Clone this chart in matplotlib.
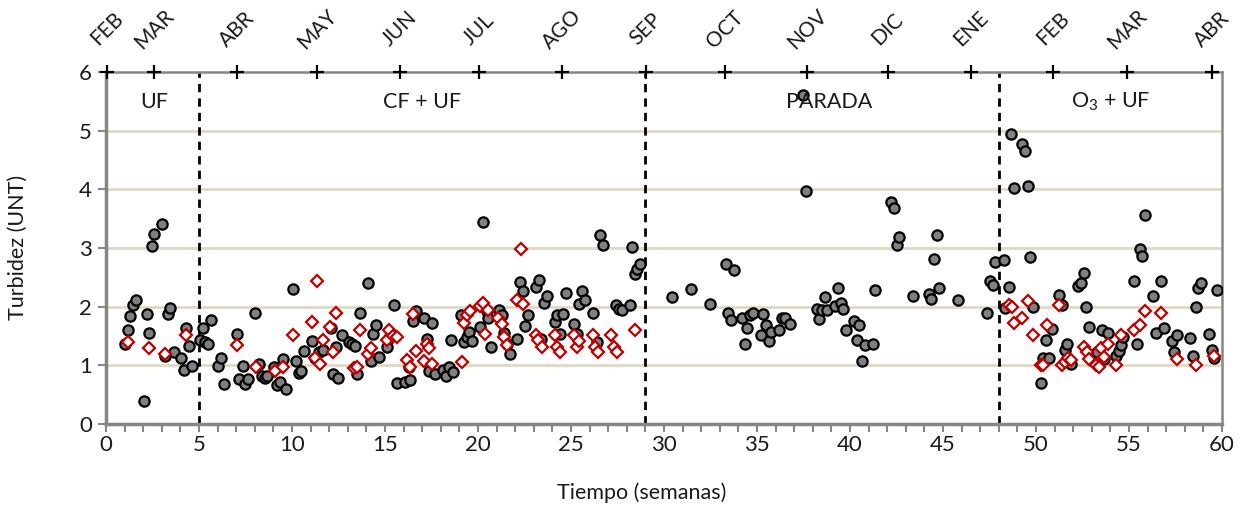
import matplotlib
matplotlib.use("Agg")
import matplotlib.pyplot as plt
import matplotlib.transforms as mtransforms

plt.rcParams['font.family'] = ['Lato', 'DejaVu Sans']
plt.rcParams['mathtext.default'] = 'regular'

# ---- data ----
gray_x = [1.02, 1.17, 1.31, 1.47, 1.61, 2.03, 2.19, 2.31, 2.46, 2.60, 3.03, 3.19, 3.31, 3.46, 3.64,
          4.05, 4.19, 4.32, 4.46, 4.62, 5.03, 5.20, 5.34, 5.50, 5.63, 6.04, 6.20, 6.33, 7.02, 7.17,
          7.35, 7.49, 7.63, 8.03, 8.23, 8.40, 8.53, 8.66, 9.02, 9.18, 9.35, 9.50, 9.66, 10.04, 10.20,
          10.39, 10.50, 10.63, 11.08, 11.24, 11.47, 11.65, 12.10, 12.22, 12.37, 12.49, 12.67, 13.08,
          13.24, 13.39, 13.51, 13.66, 14.07, 14.25, 14.37, 14.52, 14.68, 15.09, 15.23, 15.50, 15.65,
          16.05, 16.35, 16.30, 16.52, 16.67, 17.10, 17.24, 17.53, 17.35, 17.69, 18.10, 18.26, 18.42,
          18.67, 18.53, 19.07, 19.25, 19.39, 19.53, 19.69, 20.10, 20.25, 20.50, 20.55, 20.68, 21.11,
          21.27, 21.40, 21.54, 21.72, 22.12, 22.26, 22.40, 22.70, 22.55, 23.11, 23.28, 23.55, 23.70,
          23.37, 24.14, 24.26, 24.55, 24.41, 24.71, 25.16, 25.30, 25.41, 25.57, 25.75, 26.17, 26.38,
          26.56, 26.74, 27.42, 27.58, 27.76, 28.17, 28.30, 28.44, 28.56, 28.73,
          30.45, 31.45, 32.45, 33.33, 33.78, 33.46, 33.62, 34.19, 34.48, 34.34, 34.62, 34.77, 35.20,
          35.34, 35.48, 35.62, 35.77, 36.20, 36.34, 36.49, 36.77, 37.47, 37.61, 38.20, 38.35, 38.49,
          38.64, 38.78, 39.21, 39.35, 39.50, 39.64, 39.78, 40.22, 40.50, 40.36, 40.65, 40.79, 41.22,
          41.36, 42.22, 42.37, 42.51, 42.65, 43.37, 44.23, 44.37, 44.52, 44.66, 44.80, 45.82, 47.38,
          47.53, 47.67, 47.81, 48.26, 48.33, 48.53, 48.67, 48.82, 49.27, 49.39, 49.55, 49.68, 49.82,
          50.27, 50.36, 50.54, 50.72, 50.84, 51.25, 51.38, 51.56, 51.68, 51.86, 52.24, 52.40, 52.58,
          52.69, 52.83, 53.26, 53.55, 53.85, 53.66, 54.30, 54.45, 54.55, 54.69, 55.28, 55.43, 55.58,
          55.72, 55.86, 56.29, 56.44, 56.72, 56.87, 57.29, 57.44, 57.60, 58.28, 58.44, 58.58, 58.73,
          58.87, 59.30, 59.44, 59.59, 59.75]
gray_y = [1.36, 1.61, 1.84, 2.03, 2.11, 0.40, 1.87, 1.55, 3.03, 3.24, 3.41, 1.16, 1.87, 1.98, 1.22,
          1.12, 0.92, 1.63, 1.33, 0.99, 1.43, 1.64, 1.39, 1.36, 1.78, 0.99, 1.13, 0.69, 1.54, 0.76,
          0.99, 0.69, 0.76, 1.90, 1.03, 0.82, 0.78, 0.81, 0.97, 0.66, 0.72, 1.11, 0.60, 2.30, 1.07,
          0.87, 0.90, 1.24, 1.41, 1.12, 1.23, 1.26, 1.63, 0.85, 1.31, 0.78, 1.52, 1.40,
          1.36, 1.33, 0.85, 1.89, 2.41, 1.07, 1.53, 1.68, 1.14, 1.32, 1.46, 2.02, 0.70,
          0.72, 0.75, 0.98, 1.76, 1.93, 1.80, 1.45, 1.72, 0.91, 0.86, 0.92, 0.82, 0.97,
          0.89, 1.44, 1.86, 1.39, 1.49, 1.56, 1.42, 1.66, 3.45, 1.93, 1.80, 1.32, 1.95,
          1.86, 1.55, 1.36, 1.19, 1.45, 2.42, 2.27, 1.85, 1.67, 2.34, 2.45, 2.07, 2.18,
          1.45, 1.74, 1.85, 1.87, 1.53, 2.23, 1.70, 1.53, 2.05, 2.26, 2.11, 1.89, 1.40,
          3.22, 3.05, 2.02, 1.96, 1.94, 2.02, 3.02, 2.55, 2.64, 2.72,
          2.17, 2.30, 2.05, 2.72, 2.62, 1.90, 1.78, 1.80, 1.63, 1.36, 1.85, 1.90, 1.52,
          1.87, 1.68, 1.41, 1.56, 1.61, 1.80, 1.80, 1.70, 5.61, 3.98, 1.96, 1.79, 1.94,
          2.16, 1.94, 2.01, 2.31, 2.07, 1.96, 1.61, 1.76, 1.68, 1.43, 1.08, 1.35, 1.36,
          2.28, 3.78, 3.69, 3.05, 3.18, 2.18, 2.21, 2.13, 2.81, 3.22, 2.32, 2.11, 1.90,
          2.44, 2.37, 2.76, 2.80, 1.97, 2.34, 4.95, 4.02, 4.78, 4.66, 4.06, 2.85, 1.99,
          0.70, 1.12, 1.43, 1.12, 1.62, 2.20, 2.03, 1.26, 1.36, 1.03, 2.36, 2.40, 2.58,
          1.99, 1.66, 1.22, 1.60, 1.55, 1.10, 1.16, 1.25, 1.35, 1.48, 2.44, 1.36, 2.99,
          2.86, 3.56, 2.18, 1.55, 2.44, 1.63, 1.42, 1.23, 1.52, 1.46, 1.16, 1.99, 2.32,
          2.40, 1.53, 1.26, 1.13, 2.28]

red_x = [1.17, 2.31, 3.19, 4.32, 7.02, 8.05, 9.08, 9.50, 10.06, 11.07, 11.35, 11.24, 11.50, 11.65,
         12.04, 12.22, 12.37, 13.33, 13.47, 13.66, 14.07, 14.25, 15.09, 15.23, 15.41, 15.62, 16.16,
         16.52, 16.34, 16.67, 17.10, 17.24, 17.38, 17.54, 19.12, 19.26, 19.39, 19.57, 20.10, 20.29,
         20.39, 20.55, 21.10, 21.31, 21.40, 21.54, 22.11, 22.29, 22.44, 23.11, 23.24, 23.42, 24.14,
         24.27, 24.41, 25.16, 25.30, 25.43, 26.17, 26.29, 26.43, 27.15, 27.31, 27.45, 28.44,
         48.55, 48.69, 48.83, 49.27, 49.55, 49.82, 50.27, 50.40, 50.57, 51.25, 51.41, 51.56, 51.74,
         51.86, 52.58, 52.72, 52.85, 53.20, 53.37, 53.50, 53.65, 53.89, 54.29, 54.56, 55.28, 55.59,
         55.86, 56.72, 57.59, 58.58, 59.59]
red_y = [1.40, 1.30, 1.19, 1.51, 1.34, 0.98, 0.91, 0.97, 1.51, 1.74, 2.44, 1.13, 1.02, 1.43,
         1.65, 1.22, 1.90, 0.96, 0.98, 1.60, 1.20, 1.29, 1.43, 1.60, 1.50, 1.49, 1.09,
         1.87, 0.98, 1.24, 1.08, 1.36, 1.29, 1.02, 1.05, 1.73, 1.86, 1.93, 2.01, 2.07,
         1.53, 1.94, 1.80, 1.70, 1.49, 1.35, 2.12, 2.98, 2.05, 1.52, 1.43, 1.31, 1.52,
         1.32, 1.22, 1.52, 1.31, 1.42, 1.52, 1.32, 1.22, 1.52, 1.32, 1.22, 1.60,
         2.02, 2.00, 1.72, 1.80, 2.10, 1.52, 1.00, 1.00, 1.69, 2.03, 1.00, 1.06, 1.12,
         1.09, 1.31, 1.23, 1.11, 1.01, 0.98, 1.30, 1.15, 1.36, 1.00, 1.51, 1.60, 1.68,
         1.93, 1.89, 1.11, 1.00, 1.16]

month_labels = ['FEB', 'MAR', 'ABR', 'MAY', 'JUN', 'JUL', 'AGO', 'SEP', 'OCT', 'NOV', 'DIC',
                'ENE', 'FEB', 'MAR', 'ABR']
month_pos = [0.05, 2.58, 7.04, 11.34, 15.8, 20.05, 24.5, 29.03, 33.3, 37.7, 42.04, 46.5,
             50.9, 54.9, 59.46]

phase_bounds = [5, 29, 48]
phase_labels = ['UF', 'CF + UF', 'PARADA', 'O$_3$ + UF']
phase_x = [2.6, 17.0, 38.9, 54.0]

# ---- figure ----
W, H = 1248, 509
fig = plt.figure(figsize=(W / 100, H / 100), dpi=100)
ax = fig.add_axes([106 / W, 85 / H, 1116 / W, 352 / H])

ax.set_xlim(0, 60)
ax.set_ylim(0, 6)

txt_col = '#1a1a1a'
grid_col = '#DDD9C3'
for yv in range(1, 6):
    ax.axhline(yv, color=grid_col, lw=2, zorder=1)

for xb in phase_bounds:
    ax.plot([xb, xb], [0, 6], color='black', lw=2, ls=(0, (3, 2.2)), zorder=2)

ax.plot(gray_x, gray_y, ls='none', marker='o', ms=7.4, mfc='#808080', mec='black',
        mew=1.6, zorder=3)
ax.plot(red_x, red_y, ls='none', marker='D', ms=6.2, mfc='white', mec='#C00000',
        mew=1.6, zorder=4)

for lab, xp in zip(phase_labels, phase_x):
    ax.text(xp, 5.49, lab, ha='center', va='center', fontsize=15.5, color=txt_col)

# top axis: month markers
ax.plot(month_pos, [6] * len(month_pos), ls='none', marker='+', ms=10, mew=1.6,
        color='black', clip_on=False, zorder=6)
trans = mtransforms.blended_transform_factory(ax.transData, ax.transAxes)
for lab, xp in zip(month_labels, month_pos):
    ax.text(xp, 1.122, lab, transform=trans, rotation=45, ha='center', va='center',
            fontsize=15, color=txt_col)

spine_col = '#868686'
for s in ['left', 'bottom']:
    ax.spines[s].set_color(spine_col)
    ax.spines[s].set_linewidth(2.5)
ax.spines['right'].set_color(spine_col)
ax.spines['right'].set_linewidth(1.8)
ax.spines['top'].set_color(spine_col)
ax.spines['top'].set_linewidth(1.8)

ax.set_xticks(range(0, 61, 5))
ax.set_xticks(range(0, 61, 1), minor=True)
ax.set_yticks(range(0, 7))
ax.tick_params(axis='both', which='both', direction='out', color=spine_col, width=1.5,
               length=6, labelsize=16, labelcolor=txt_col)
ax.tick_params(axis='x', which='major', pad=2)
ax.tick_params(axis='y', pad=4)

fig.text(642 / W, 1 - 493 / H, 'Tiempo (semanas)', ha='center', va='center',
         fontsize=15.5, color=txt_col)
fig.text(18 / W, 1 - 247 / H, 'Turbidez (UNT)', ha='center', va='center', rotation=90,
         fontsize=15.5, color=txt_col)

fig.savefig('out.png', dpi=100)
